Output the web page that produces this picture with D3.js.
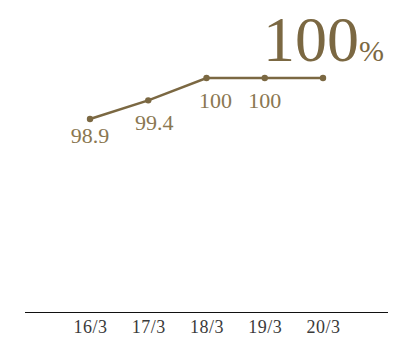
<!DOCTYPE html>
<html>
<head>
<meta charset="utf-8">
<script src="https://cdn.jsdelivr.net/npm/d3@7"></script>
<style>
  html, body { margin: 0; padding: 0; background: #fff; }
  svg { display: block; }
  text { font-family: "Liberation Serif", "DejaVu Serif", serif; }
</style>
</head>
<body>
<svg id="chart" width="417" height="338"></svg>
<script>
// Fiscal periods and rate values (%)
const periods = ["16/3", "17/3", "18/3", "19/3", "20/3"];
const rates = [98.9, 99.4, 100, 100, 100];
const headline = "100";
const headlineUnit = "%";

// Label nudges so value labels clear the line
const labelDx = [0, 6, 9, 0];
const labelDy = [24, 30, 30, 30];

const color = "#7b6842";
const svg = d3.select("#chart");

const x = d3.scalePoint().domain(periods).range([90, 323]);
const y = d3.scaleLinear().domain([98.9, 100]).range([119, 78]);

// Baseline with period labels
const axis = d3.axisBottom(x).tickSize(0).tickPadding(0);
const gx = svg.append("g").attr("transform", "translate(0,312)").call(axis);
gx.select(".domain").remove();
gx.selectAll("text")
  .attr("font-family", "Liberation Serif, serif")
  .attr("font-size", 18)
  .attr("letter-spacing", 0.5)
  .attr("fill", "#3a3a3a")
  .attr("dy", null)
  .attr("y", 21);
svg.append("line")
  .attr("x1", 25).attr("x2", 388)
  .attr("y1", 312.5).attr("y2", 312.5)
  .attr("stroke", "#111").attr("stroke-width", 1);

// Rate line and points
const line = d3.line().x((d, i) => x(periods[i])).y(d => y(d));
svg.append("path")
  .datum(rates)
  .attr("d", line)
  .attr("fill", "none")
  .attr("stroke", color)
  .attr("stroke-width", 2.5);

svg.selectAll("circle.pt")
  .data(rates)
  .join("circle")
  .attr("class", "pt")
  .attr("cx", (d, i) => x(periods[i]))
  .attr("cy", d => y(d))
  .attr("r", 3.2)
  .attr("fill", color);

// Value labels under the points (latest value shown as the headline)
svg.selectAll("text.val")
  .data(rates.slice(0, -1))
  .join("text")
  .attr("class", "val")
  .attr("x", (d, i) => x(periods[i]) + labelDx[i])
  .attr("y", (d, i) => y(d) + labelDy[i])
  .attr("text-anchor", "middle")
  .attr("font-size", 22)
  .attr("fill", "#8a7751")
  .text(d => d);

// Headline figure for the latest period
const head = svg.append("text")
  .attr("x", 263)
  .attr("y", 61)
  .attr("fill", color);
head.append("tspan").attr("font-size", 64).text(headline);
head.append("tspan").attr("font-size", 30).text(headlineUnit);
</script>
</body>
</html>
